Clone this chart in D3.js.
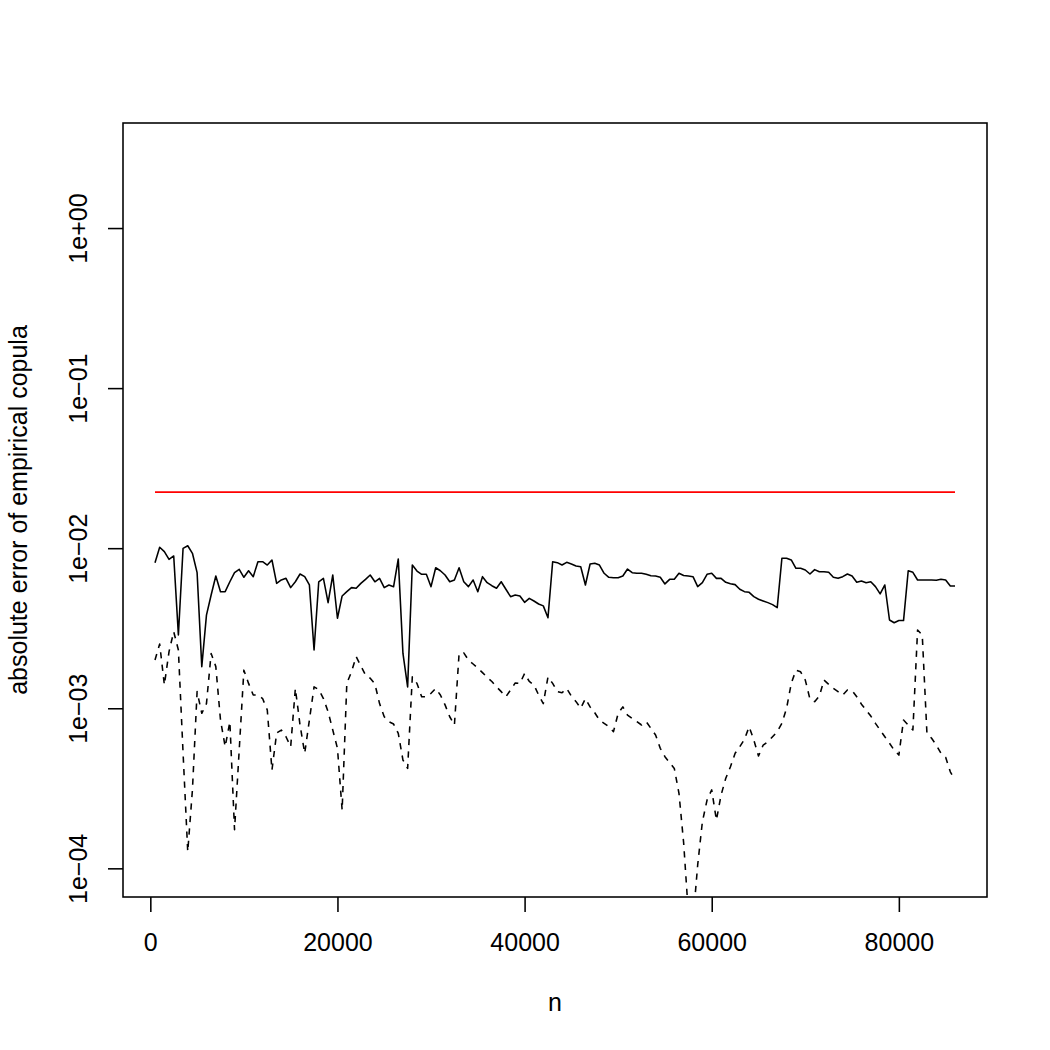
<!DOCTYPE html>
<html>
<head>
<meta charset="utf-8">
<script src="https://cdn.jsdelivr.net/npm/d3@7"></script>
<style>
body { margin: 0; background: #fff; }
text { font-family: "Liberation Sans", Arial, Helvetica, sans-serif; }
</style>
</head>
<body>
<div class="root"></div>
<script>

// sample sizes, one point every 500
var sampleSizes = d3.range(500, 86001, 500);

// solid line (upper error curve)
var errUpper = [
  0.00812, 0.01013, 0.00951, 0.00852, 0.00894, 0.00287, 0.00998, 0.01036, 0.00929, 0.00703,
  0.00182, 0.00382, 0.0051, 0.0067, 0.00535, 0.00535, 0.00617, 0.00703, 0.00738, 0.00658,
  0.00723, 0.00664, 0.00823, 0.00823, 0.00785, 0.00844, 0.00603, 0.00633, 0.00648, 0.00567,
  0.00617, 0.0069, 0.00664, 0.00589, 0.00231, 0.00617, 0.00648, 0.00457, 0.0068, 0.00365,
  0.00503, 0.00535, 0.00567, 0.00562, 0.00603, 0.00639, 0.0068, 0.00617, 0.00648, 0.00567,
  0.00589, 0.00575, 0.00856, 0.0022, 0.00136, 0.00785, 0.0072, 0.00687, 0.00687, 0.00575,
  0.00755, 0.00723, 0.0068, 0.00617, 0.00633, 0.00755, 0.00617, 0.00575, 0.00633, 0.00535,
  0.00664, 0.00609, 0.00583, 0.00562, 0.00617, 0.00554, 0.00498, 0.0051, 0.00503, 0.00459,
  0.00486, 0.00468, 0.00448, 0.00436, 0.00368, 0.00823, 0.00812, 0.00785, 0.00816, 0.00797,
  0.00774, 0.00766, 0.00589, 0.00797, 0.00805, 0.00785, 0.00697, 0.00658, 0.00654, 0.00654,
  0.0067, 0.00741, 0.00703, 0.00697, 0.00697, 0.00687, 0.00673, 0.0067, 0.00658, 0.00598,
  0.00639, 0.00639, 0.00697, 0.00675, 0.0067, 0.00664, 0.00575, 0.00609, 0.00687, 0.00697,
  0.00648, 0.00648, 0.00612, 0.006, 0.00592, 0.00554, 0.00535, 0.0053, 0.00498, 0.0048,
  0.00468, 0.00457, 0.00444, 0.00425, 0.00865, 0.00865, 0.00844, 0.00749, 0.00749, 0.00731,
  0.0069, 0.00735, 0.00713, 0.00713, 0.00707, 0.00658, 0.00648, 0.00664, 0.0069, 0.0067,
  0.00612, 0.00624, 0.00609, 0.00617, 0.00575, 0.00518, 0.00589, 0.00356, 0.00342, 0.00353,
  0.00353, 0.00723, 0.00707, 0.00633, 0.00633, 0.00633, 0.00633, 0.0063, 0.00639, 0.00633,
  0.0058, 0.0058
];

// dashed line (lower error curve)
var errLower = [
  0.002, 0.00252, 0.0014, 0.00226, 0.00301, 0.00231, 0.000525, 0.000127, 0.000309, 0.00127,
  0.00093, 0.00107, 0.0022, 0.00182, 0.000844, 0.000575, 0.000824, 0.000174, 0.000548, 0.00173,
  0.00143, 0.00121, 0.00121, 0.00115, 0.000975, 0.000411, 0.0007, 0.000731, 0.000664, 0.000575,
  0.00133, 0.000786, 0.000523, 0.000844, 0.00136, 0.00131, 0.00115, 0.000951, 0.000731, 0.000562,
  0.000231, 0.00143, 0.00169, 0.0021, 0.00184, 0.00161, 0.00154, 0.00142, 0.00107, 0.000885,
  0.000824, 0.000797, 0.000697, 0.000475, 0.000421, 0.00157, 0.00143, 0.00118, 0.00118, 0.00124,
  0.00133, 0.00121, 0.00105, 0.000885, 0.000786, 0.0022, 0.00222, 0.002, 0.00189, 0.00178,
  0.00167, 0.00156, 0.00147, 0.00136, 0.00127, 0.00118, 0.0013, 0.00144, 0.00143, 0.00165,
  0.00147, 0.0014, 0.00121, 0.00107, 0.00157, 0.00143, 0.00127, 0.00125, 0.00133, 0.00119,
  0.0011, 0.001, 0.00115, 0.00102, 0.000938, 0.000844, 0.000805, 0.000767, 0.000714, 0.00093,
  0.00102, 0.000907, 0.000865, 0.000824, 0.000786, 0.000824, 0.000749, 0.000681, 0.000562, 0.000498,
  0.000457, 0.000421, 0.000294, 0.000144, 0.0000526, 0.0000469, 0.000105, 0.000195, 0.000267, 0.000309,
  0.0002, 0.000287, 0.000365, 0.000431, 0.000523, 0.000575, 0.00064, 0.000767, 0.000633, 0.000503,
  0.000589, 0.000618, 0.000664, 0.000714, 0.000805, 0.001, 0.00143, 0.00173, 0.00169, 0.0015,
  0.00114, 0.0011, 0.00119, 0.0015, 0.00141, 0.00133, 0.00127, 0.00121, 0.0013, 0.00129,
  0.00118, 0.00106, 0.000975, 0.000894, 0.000805, 0.000731, 0.000664, 0.000604, 0.000548, 0.00051,
  0.000844, 0.000786, 0.000731, 0.00308, 0.00287, 0.000697, 0.000649, 0.000589, 0.000523, 0.000494,
  0.000401, 0.000356
];

// red reference level
var refSizes = [500, 86000];
var refLevel = [0.0224, 0.0224];

var xTicks = [0, 20000, 40000, 60000, 80000];
var yTicks = [1e-4, 1e-3, 1e-2, 1e-1, 1];
var yTickLabels = ["1e\u221204", "1e\u221203", "1e\u221202", "1e\u221201", "1e+00"];
var yLimits = [1e-4, 3];

var xTitle = "n";
var yTitle = "absolute error of empirical copula";

// DATA ONLY ^^^

var width = 1050,
    height = 1050,
    line = 30,          // one margin line in R at 150 dpi
    margin = {top: 123, right: 63, bottom: 153, left: 123},
    lwd = 1.5625,
    fontSize = 25;

var svg = d3.select('.root')
            .append('svg')
            .attr("width", width)
            .attr("height", height)
            .style("display", "block")
            .style("background", "#fff");

// R pads each axis range by 4%
var xExt = d3.extent(sampleSizes),
    xPad = (xExt[1] - xExt[0]) * 0.04;

var x = d3.scaleLinear()
          .domain([xExt[0] - xPad, xExt[1] + xPad])
          .range([margin.left, width - margin.right]);

var ly0 = Math.log10(yLimits[0]),
    ly1 = Math.log10(yLimits[1]),
    lyPad = (ly1 - ly0) * 0.04;

var y = d3.scaleLog()
          .domain([Math.pow(10, ly0 - lyPad), Math.pow(10, ly1 + lyPad)])
          .range([height - margin.bottom, margin.top]);

svg.append('clipPath')
   .attr("id", "plot-area")
   .append('rect')
   .attr("x", margin.left)
   .attr("y", margin.top)
   .attr("width", width - margin.left - margin.right)
   .attr("height", height - margin.top - margin.bottom);

function toPoints(xs, vs) {
  return xs.map(function (n, i) { return {n: n, v: vs[i]}; });
}

var path = d3.line()
             .x(function (d) { return x(d.n); })
             .y(function (d) { return y(d.v); });

var lines = svg.append('g').attr("clip-path", "url(#plot-area)");

lines.append('path')
     .datum(toPoints(sampleSizes, errUpper))
     .attr("d", path)
     .attr("fill", "none")
     .attr("stroke", "#000")
     .attr("stroke-width", lwd)
     .attr("stroke-linejoin", "round");

lines.append('path')
     .datum(toPoints(sampleSizes, errLower))
     .attr("d", path)
     .attr("fill", "none")
     .attr("stroke", "#000")
     .attr("stroke-width", lwd)
     .attr("stroke-dasharray", (4 * lwd) + "," + (4 * lwd))
     .attr("stroke-linejoin", "round");

lines.append('path')
     .datum(toPoints(refSizes, refLevel))
     .attr("d", path)
     .attr("fill", "none")
     .attr("stroke", "#ff0000")
     .attr("stroke-width", lwd);

// axes
var xAxis = svg.append('g')
               .attr("transform", "translate(0," + (height - margin.bottom) + ")")
               .call(d3.axisBottom(x).tickValues(xTicks).tickSize(line / 2).tickFormat(d3.format("d")));

var yAxis = svg.append('g')
               .attr("transform", "translate(" + margin.left + ",0)")
               .call(d3.axisLeft(y).tickValues(yTicks).tickSize(line / 2)
                       .tickFormat(function (d, i) { return yTickLabels[i]; }));

[xAxis, yAxis].forEach(function (g) {
  g.select('.domain').remove();
  g.selectAll('line').attr("stroke", "#000").attr("stroke-width", lwd);
  g.selectAll('text')
   .attr("fill", "#000")
   .attr("font-size", fontSize)
   .attr("font-family", '"Liberation Sans", Arial, Helvetica, sans-serif');
});

// tick labels: baseline at line 1.8 below, line 1.2 left (R's ylbias)
xAxis.selectAll('text')
     .attr("y", 1.8 * line)
     .attr("dy", null);

yAxis.selectAll('text')
     .attr("transform", "rotate(-90)")
     .attr("x", 0)
     .attr("y", -1.2 * line)
     .attr("dy", null)
     .attr("text-anchor", "middle");

// frame
svg.append('rect')
   .attr("x", margin.left)
   .attr("y", margin.top)
   .attr("width", width - margin.left - margin.right)
   .attr("height", height - margin.top - margin.bottom)
   .attr("fill", "none")
   .attr("stroke", "#000")
   .attr("stroke-width", lwd);

// axis titles
svg.append('text')
   .attr("x", (margin.left + width - margin.right) / 2)
   .attr("y", height - margin.bottom + 3.8 * line)
   .attr("text-anchor", "middle")
   .attr("font-size", fontSize)
   .text(xTitle);

var yMid = (margin.top + height - margin.bottom) / 2;
svg.append('text')
   .attr("transform", "translate(" + (margin.left - 3.2 * line) + "," + yMid + ") rotate(-90)")
   .attr("text-anchor", "middle")
   .attr("font-size", fontSize)
   .text(yTitle);

</script>
</body>
</html>
